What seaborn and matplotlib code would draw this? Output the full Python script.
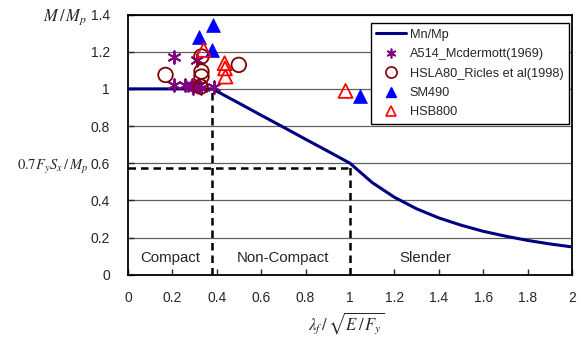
import matplotlib
matplotlib.use("Agg")
import matplotlib.pyplot as plt
import seaborn as sns
import numpy as np
import pandas as pd
from matplotlib.lines import Line2D

# ---- data ----
curve_x = [0.0, 0.38, 0.5, 0.6, 0.7, 0.8, 0.9, 1.0, 1.1, 1.2, 1.3, 1.4, 1.5, 1.6, 1.7, 1.8, 1.9, 2.0]
curve_y = [1.0, 1.0, 0.923, 0.858, 0.794, 0.729, 0.665, 0.60, 0.496, 0.417, 0.355, 0.306, 0.267, 0.234, 0.208, 0.185, 0.166, 0.15]

a514_x = [0.206, 0.312, 0.206, 0.259, 0.289, 0.319, 0.387, 0.295, 0.327]
a514_y = [1.174, 1.156, 1.021, 1.021, 1.021, 1.021, 1.010, 1.004, 1.004]

hsla_x = [0.169, 0.499, 0.331, 0.331, 0.331, 0.327]
hsla_y = [1.075, 1.129, 1.174, 1.093, 1.066, 1.012]

sm490_x = [0.319, 0.384, 0.379, 1.044]
sm490_y = [1.281, 1.344, 1.210, 0.964]

hsb_x = [0.341, 0.435, 0.437, 0.439, 0.980]
hsb_y = [1.210, 1.138, 1.110, 1.066, 0.989]

lam_p = 0.38
lam_r = 1.0
m_r = 0.576

legend_labels = ["Mn/Mp", "A514_Mcdermott(1969)", "HSLA80_Ricles et al(1998)", "SM490", "HSB800"]
region_labels = ["Compact", "Non-Compact", "Slender"]

# ---- style ----
sns.set_style("white")
plt.rcParams['font.family'] = ['Liberation Sans', 'DejaVu Sans']
plt.rcParams['mathtext.fontset'] = 'stix'

fig = plt.figure(figsize=(5.81, 3.38), dpi=100)
ax = fig.add_axes([128/581, 1-274.8/338, (572-128)/581, (274.8-14.5)/338])

# gridlines
for yv in np.arange(0.2, 1.41, 0.2):
    ax.axhline(yv, color='#606060', lw=0.9, zorder=0)

# dashed guides
ax.plot([lam_p, lam_p], [0, 1.0], ls=(0, (3, 2)), color='black', lw=1.8, zorder=1)
ax.plot([lam_r, lam_r], [0, 0.6], ls=(0, (3, 2)), color='black', lw=1.8, zorder=1)
ax.plot([0, lam_r], [m_r, m_r], ls=(0, (3, 2)), color='black', lw=1.8, zorder=1)

# curve
sns.lineplot(x=curve_x, y=curve_y, ax=ax, color='#000080', lw=2.2, zorder=3)

sns.scatterplot(x=a514_x, y=a514_y, ax=ax, marker=(6, 2, 0), s=80, color='#800080', linewidth=1.4, zorder=4)
sns.scatterplot(x=hsla_x, y=hsla_y, ax=ax, marker='o', s=110, facecolor='none', edgecolor='#800000', linewidth=1.3, zorder=4)
sns.scatterplot(x=sm490_x, y=sm490_y, ax=ax, marker='^', s=100, color='#0000FF', edgecolor='#0000FF', linewidth=0.5, zorder=4)
sns.scatterplot(x=hsb_x, y=hsb_y, ax=ax, marker='^', s=100, facecolor='none', edgecolor='#FF0000', linewidth=1.3, zorder=4)

ax.set_xlim(0, 2)
ax.set_ylim(0, 1.4)
ax.set_xticks(np.arange(0, 2.01, 0.2))
ax.set_xticklabels(['0', '0.2', '0.4', '0.6', '0.8', '1', '1.2', '1.4', '1.6', '1.8', '2'])
ax.set_yticks(np.arange(0, 1.41, 0.2))
ax.set_yticklabels(['0', '0.2', '0.4', '0.6', '0.8', '1', '1.2', '1.4'])
ax.tick_params(axis='x', direction='in', length=4, width=1, pad=12, labelsize=10, bottom=True)
ax.tick_params(axis='y', direction='in', length=4, width=1, pad=13, labelsize=10, left=True)
for sp in ax.spines.values():
    sp.set_color('black')
    sp.set_linewidth(1.3)

# region labels
ax.text(0.19, 0.09, region_labels[0], ha='center', va='center', fontsize=10.8)
ax.text(0.70, 0.09, region_labels[1], ha='center', va='center', fontsize=10.8)
ax.text(1.34, 0.09, region_labels[2], ha='center', va='center', fontsize=10.8)

# axis labels (math)
fig.text(65/581, 1-17/338, r'$M\,/\,M_p$', ha='center', va='center', fontsize=12)
fig.text(53/581, 1-167/338, r'$0.7F_yS_x\,/\,M_p$', ha='center', va='center', fontsize=10.5)
fig.text(346/581, 1-323/338, r'$\lambda_f\,/\,\sqrt{E\,/\,F_y}$', ha='center', va='center', fontsize=12)

handles = [
    Line2D([], [], color='#000080', lw=2.2),
    Line2D([], [], ls='', marker=(6, 2, 0), ms=7, color='#800080', mew=1.2),
    Line2D([], [], ls='', marker='o', ms=8, mfc='none', mec='#800000', mew=1.2),
    Line2D([], [], ls='', marker='^', ms=7, color='#0000FF'),
    Line2D([], [], ls='', marker='^', ms=7, mfc='none', mec='#FF0000', mew=1.2),
]
leg = ax.legend(handles, legend_labels, loc='upper right', bbox_to_anchor=((569-128)/444, (274.8-23)/260.3),
                fontsize=9.2, frameon=True, fancybox=False, framealpha=1, edgecolor='black',
                handlelength=2.3, handletextpad=0.3, labelspacing=0.58, borderpad=0.45, borderaxespad=0)
leg.get_frame().set_linewidth(1.0)
leg.set_zorder(10)

fig.savefig('out.png', dpi=100)
